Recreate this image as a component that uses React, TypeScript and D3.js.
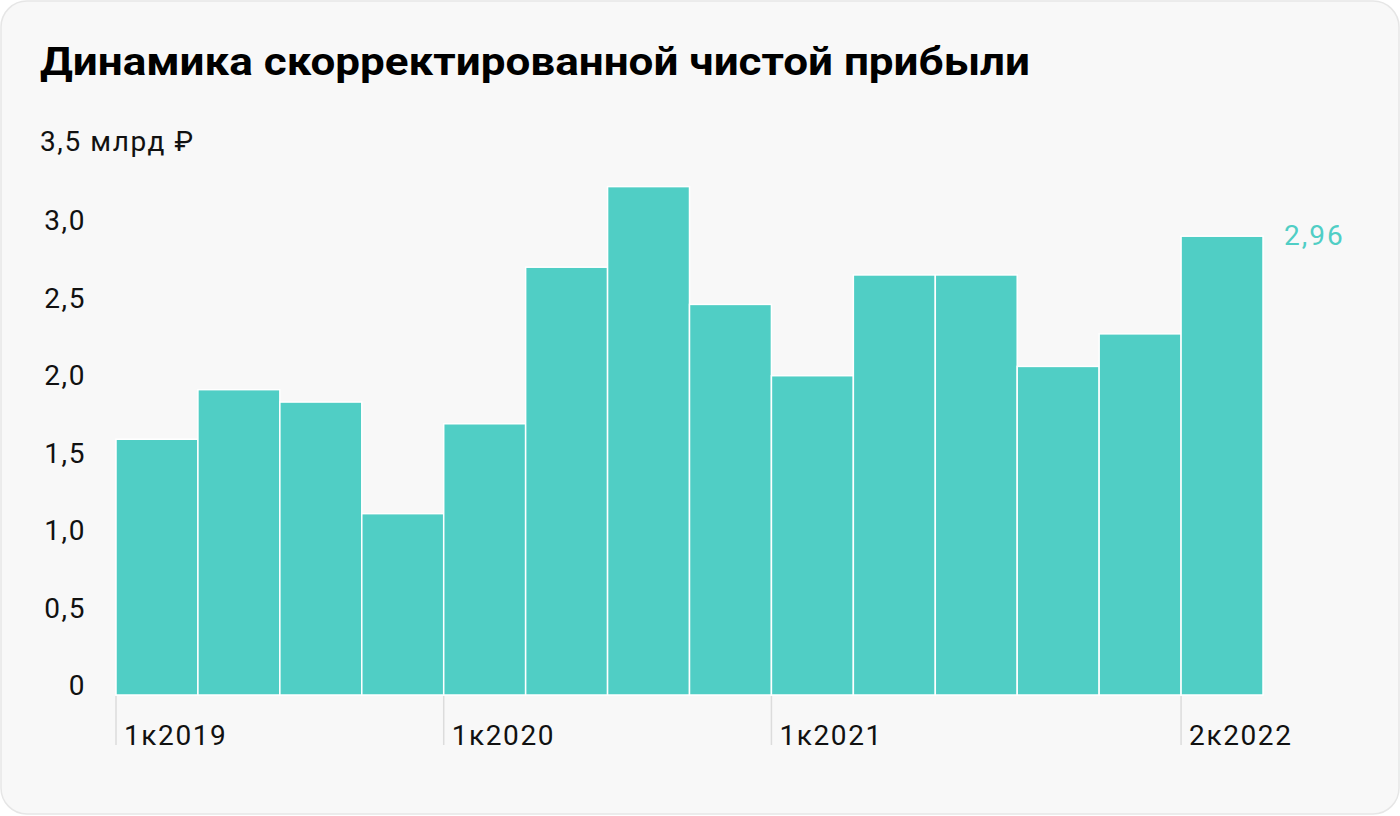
import React from "react";
import * as d3 from "d3";

const quarters = ["1к2019","2к2019","3к2019","4к2019","1к2020","2к2020","3к2020","4к2020","1к2021","2к2021","3к2021","4к2021","1к2022","2к2022"];
const values = [1.65, 1.97, 1.89, 1.17, 1.75, 2.76, 3.28, 2.52, 2.06, 2.71, 2.71, 2.12, 2.33, 2.96];
const yTicks = [0, 0.5, 1, 1.5, 2, 2.5, 3];
const labeledQuarters = ["1к2019", "1к2020", "1к2021", "2к2022"];
const title = "Динамика скорректированной чистой прибыли";
const unitLabel = "3,5 млрд ₽";
const lastLabel = "2,96";

const W = 1400, H = 816;
const TEAL = "#50cec5";
const FONT = "Roboto, 'Noto Sans', sans-serif";
const LS = 1.6;

export default function App() {
  const x = d3.scaleBand<string>().domain(quarters).range([116, 1263]).padding(0);
  const y = d3.scaleLinear().domain([0, 3.5]).range([695, 152.5]);
  const fmt = (v: number) => (v === 0 ? "0" : d3.format(".1f")(v).replace(".", ","));
  const last = quarters[quarters.length - 1];
  return (
    <svg width={W} height={H} style={{ position: "fixed", left: 0, top: 0, background: "#fff" }} fontFamily={FONT}>
      <rect x={1} y={1} width={W - 2} height={H - 3} rx={26} fill="#f8f8f8" stroke="#e6e6e6" strokeWidth={1.5} />
      <text x={40} y={75} fontSize={39} fontWeight={700} fill="#000" textLength={990} lengthAdjust="spacingAndGlyphs">{title}</text>
      <text x={40} y={151} fontSize={28} fill="#111" letterSpacing={LS}>{unitLabel}</text>
      {yTicks.map((t) => (
        <text key={t} x={86} y={y(t)} fontSize={28} fill="#111" textAnchor="end" letterSpacing={LS}>{fmt(t)}</text>
      ))}
      {quarters.map((q, i) => (
        <rect key={q} x={x(q)} y={y(values[i])} width={x.bandwidth()} height={y(0) - y(values[i])} fill={TEAL} stroke="#ffffff" strokeWidth={1.5} />
      ))}
      {labeledQuarters.map((q) => (
        <g key={q}>
          <line x1={x(q)} x2={x(q)} y1={y(0) + 1} y2={745} stroke="#dcdcdc" strokeWidth={1.5} />
          <text x={(x(q) as number) + 8} y={745} fontSize={28} fill="#111" letterSpacing={LS}>{q}</text>
        </g>
      ))}
      <text x={(x(last) as number) + x.bandwidth() + 21} y={245} fontSize={28} fill={TEAL} letterSpacing={2}>{lastLabel}</text>
    </svg>
  );
}
